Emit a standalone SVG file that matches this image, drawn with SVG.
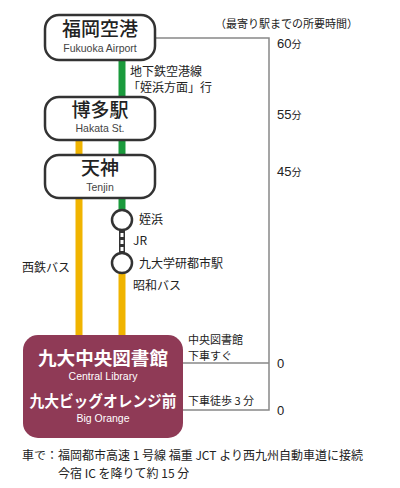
<svg xmlns="http://www.w3.org/2000/svg" width="400" height="488" viewBox="0 0 400 488">
<style>
text{font-family:"Noto Sans CJK JP","Noto Sans",sans-serif;fill:#222}
.st{fill:#fff;stroke:#333;stroke-width:2.5}
.jp{font-size:19px;font-weight:500;text-anchor:middle}
.en{font-family:"Liberation Sans","Noto Sans",sans-serif;font-size:10.5px;text-anchor:middle;fill:#444}
.lb{font-size:12px}
.sm{font-size:11px}
.num{font-family:"Liberation Sans","Noto Sans",sans-serif;font-size:13px;fill:#222}
.fn{font-family:"Noto Sans CJK JP",sans-serif;font-size:10px}
.gl{stroke:#888;stroke-width:1.5;fill:none}
.green{stroke:#1a9a3c;stroke-width:7}
.yel{stroke:#f0b400;stroke-width:7}
.wjp{font-weight:700;fill:#fff;text-anchor:middle}
.wen{font-family:"Liberation Sans","Noto Sans",sans-serif;font-size:10.5px;text-anchor:middle;fill:#fff}
</style>
<g id="connectors">
<path class="gl" d="M155 38H269V410H183M183 363H269"/>
<line class="green" x1="122" y1="60" x2="122" y2="98"/>
<line class="green" x1="122" y1="140" x2="122" y2="156"/>
<line class="yel" x1="79" y1="140" x2="79" y2="156"/>
<line class="green" x1="122" y1="198" x2="122" y2="212"/>
<line class="yel" x1="79" y1="198" x2="79" y2="336"/>
<line class="yel" x1="122" y1="272" x2="122" y2="336"/>
<rect x="119" y="229" width="6" height="25" fill="#333"/>
<rect x="120.5" y="233" width="3" height="4" fill="#fff"/>
<rect x="120.5" y="240" width="3" height="4" fill="#fff"/>
<rect x="120.5" y="247" width="3" height="4" fill="#fff"/>
</g>
<g id="stop-meinohama"><circle cx="122" cy="220" r="10" fill="#fff" stroke="#333" stroke-width="2.5"/></g>
<g id="stop-kyudai"><circle cx="122" cy="263" r="10" fill="#fff" stroke="#333" stroke-width="2.5"/></g>
<g id="airport">
<rect class="st" x="45" y="15" width="110" height="45" rx="14"/>
<text class="jp" x="100" y="36">福岡空港</text>
<text class="en" x="100" y="51.5">Fukuoka Airport</text>
</g>
<g id="hakata">
<rect class="st" x="45" y="97" width="110" height="43" rx="14"/>
<text class="jp" x="100" y="116.5">博多駅</text>
<text class="en" x="100" y="132">Hakata St.</text>
</g>
<g id="tenjin">
<rect class="st" x="45" y="155" width="110" height="43" rx="14"/>
<text class="jp" x="100" y="175">天神</text>
<text class="en" x="100" y="190.5">Tenjin</text>
</g>
<g id="library">
<rect x="23" y="335" width="160" height="103" rx="15" fill="#8f3a56"/>
<text class="wjp" x="103" y="364.5" font-size="18" textLength="130" lengthAdjust="spacingAndGlyphs">九大中央図書館</text>
<text class="wen" x="103" y="380">Central Library</text>
<text class="wjp" x="103" y="406.5" font-size="15.5" textLength="147" lengthAdjust="spacingAndGlyphs">九大ビッグオレンジ前</text>
<text class="wen" x="103" y="421.5">Big Orange</text>
</g>
<g id="labels">
<text x="215" y="28" style="font-size:11px">（最寄り駅までの所要時間）</text>
<text class="num" x="277" y="48">60<tspan class="fn">分</tspan></text>
<text class="num" x="277" y="119">55<tspan class="fn">分</tspan></text>
<text class="num" x="277" y="176">45<tspan class="fn">分</tspan></text>
<text class="num" x="277" y="368">0</text>
<text class="num" x="277" y="415">0</text>
<text class="lb" x="130" y="76">地下鉄空港線</text>
<text class="lb" x="128" y="92">「姪浜方面」行</text>
<text class="lb" x="139" y="224">姪浜</text>
<text class="lb" x="133" y="245">JR</text>
<text class="lb" x="139" y="268">九大学研都市駅</text>
<text class="lb" x="133" y="290">昭和バス</text>
<text class="lb" x="22" y="272">西鉄バス</text>
<text class="sm" x="188" y="343.5">中央図書館</text>
<text class="sm" x="188" y="359.5">下車すぐ</text>
<text class="sm" x="188" y="405">下車徒歩 3 分</text>
<text class="lb" x="22" y="460">車で：福岡都市高速 1 号線 福重 JCT より西九州自動車道に接続</text>
<text class="lb" x="58" y="478">今宿 IC を降りて約 15 分</text>
</g>
</svg>
